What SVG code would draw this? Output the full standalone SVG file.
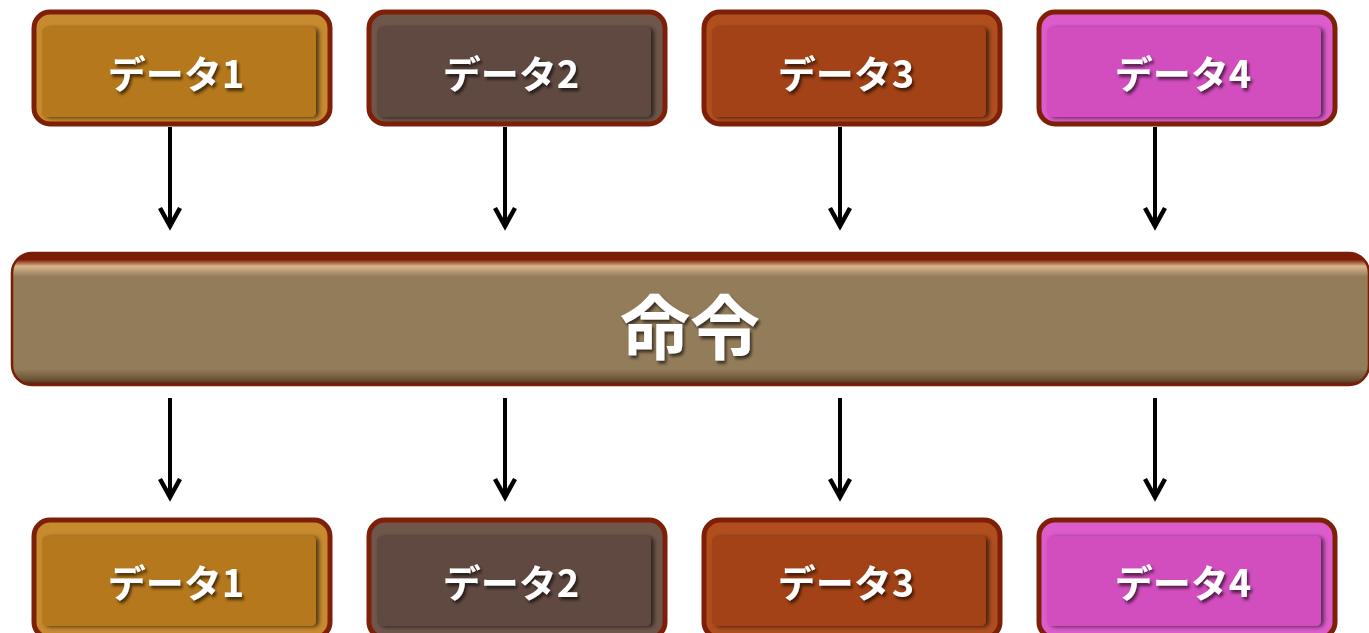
<svg xmlns="http://www.w3.org/2000/svg" width="1369" height="633" viewBox="0 0 1369 633">
<defs>
<linearGradient id="barRim" x1="0" y1="0" x2="0" y2="1">
<stop offset="0" stop-color="#7a1c06"/><stop offset="0.05" stop-color="#7a1c06"/><stop offset="0.1" stop-color="#d8b68c"/><stop offset="0.18" stop-color="#937c5a"/><stop offset="0.88" stop-color="#937c5a"/><stop offset="0.96" stop-color="#6a5234"/><stop offset="1" stop-color="#5a1a08"/>
</linearGradient>
<filter id="ts" x="-10%" y="-10%" width="130%" height="140%">
<feDropShadow dx="2" dy="3" stdDeviation="1.5" flood-color="#000" flood-opacity="0.6"/>
</filter>
<filter id="inner" x="-5%" y="-10%" width="115%" height="130%">
<feDropShadow dx="3" dy="1" stdDeviation="2" flood-color="#000" flood-opacity="0.6"/>
</filter>
<style>
.t{font-family:"Noto Sans CJK JP","Noto Sans",sans-serif;font-weight:bold;fill:#fff;text-anchor:middle;}
.d{font-size:38px;}
.outer{stroke:#7e2008;stroke-width:5;}
.conn line{stroke:#000;stroke-width:4;}
.conn path{fill:none;stroke:#000;stroke-width:4.5;stroke-linejoin:miter;}
</style>
</defs>

<g id="cmd">
<rect x="12" y="253" width="1357" height="132" rx="20" fill="url(#barRim)" stroke="#7a1e08" stroke-width="2.5"/>
<text class="t" x="690" y="354" font-size="70" filter="url(#ts)">命令</text>
</g>

<g id="t1">
<rect class="outer" x="34" y="12" width="296" height="112" rx="16" fill="#c88a2e"/>
<rect x="42" y="27" width="274" height="90" rx="5" fill="#b5781e" filter="url(#inner)"/>
<text class="t d" x="176" y="88" filter="url(#ts)">データ1</text>
</g>
<g id="t2">
<rect class="outer" x="369" y="12" width="296" height="112" rx="16" fill="#6e564a"/>
<rect x="377" y="27" width="274" height="90" rx="5" fill="#614a40" filter="url(#inner)"/>
<text class="t d" x="511" y="88" filter="url(#ts)">データ2</text>
</g>
<g id="t3">
<rect class="outer" x="704" y="12" width="296" height="112" rx="16" fill="#b04e1e"/>
<rect x="712" y="27" width="274" height="90" rx="5" fill="#a24213" filter="url(#inner)"/>
<text class="t d" x="846" y="88" filter="url(#ts)">データ3</text>
</g>
<g id="t4">
<rect class="outer" x="1039" y="12" width="296" height="112" rx="16" fill="#dc5ccb"/>
<rect x="1047" y="27" width="274" height="90" rx="5" fill="#d24dbe" filter="url(#inner)"/>
<text class="t d" x="1183" y="88" filter="url(#ts)">データ4</text>
</g>

<g id="b1">
<rect class="outer" x="34" y="520" width="296" height="118" rx="16" fill="#c88a2e"/>
<rect x="42" y="536" width="274" height="90" rx="5" fill="#b5781e" filter="url(#inner)"/>
<text class="t d" x="176" y="597" filter="url(#ts)">データ1</text>
</g>
<g id="b2">
<rect class="outer" x="369" y="520" width="296" height="118" rx="16" fill="#6e564a"/>
<rect x="377" y="536" width="274" height="90" rx="5" fill="#614a40" filter="url(#inner)"/>
<text class="t d" x="511" y="597" filter="url(#ts)">データ2</text>
</g>
<g id="b3">
<rect class="outer" x="704" y="520" width="296" height="118" rx="16" fill="#b04e1e"/>
<rect x="712" y="536" width="274" height="90" rx="5" fill="#a24213" filter="url(#inner)"/>
<text class="t d" x="846" y="597" filter="url(#ts)">データ3</text>
</g>
<g id="b4">
<rect class="outer" x="1039" y="520" width="296" height="118" rx="16" fill="#dc5ccb"/>
<rect x="1047" y="536" width="274" height="90" rx="5" fill="#d24dbe" filter="url(#inner)"/>
<text class="t d" x="1183" y="597" filter="url(#ts)">データ4</text>
</g>

<g class="conn">
<line x1="170" y1="127" x2="170" y2="226"/><path d="M160,208 L170,226 L180,208"/>
<line x1="505" y1="127" x2="505" y2="226"/><path d="M495,208 L505,226 L515,208"/>
<line x1="840" y1="127" x2="840" y2="226"/><path d="M830,208 L840,226 L850,208"/>
<line x1="1155" y1="127" x2="1155" y2="226"/><path d="M1145,208 L1155,226 L1165,208"/>
<line x1="170" y1="398" x2="170" y2="497"/><path d="M160,479 L170,497 L180,479"/>
<line x1="505" y1="398" x2="505" y2="497"/><path d="M495,479 L505,497 L515,479"/>
<line x1="840" y1="398" x2="840" y2="497"/><path d="M830,479 L840,497 L850,479"/>
<line x1="1155" y1="398" x2="1155" y2="497"/><path d="M1145,479 L1155,497 L1165,479"/>
</g>
</svg>
